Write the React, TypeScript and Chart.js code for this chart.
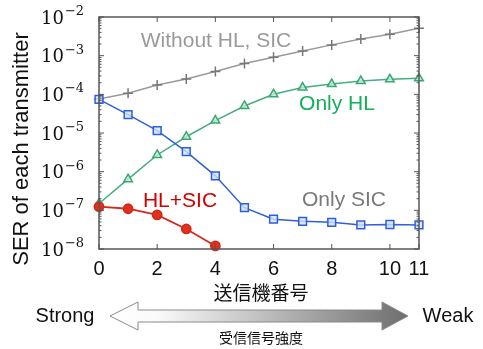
import React, { useEffect, useRef } from "react";
import { Chart, registerables } from "chart.js";

Chart.register(...registerables);

const transmitters = [0, 1, 2, 3, 4, 5, 6, 7, 8, 9, 10, 11];
const xTickValues = [0, 2, 4, 6, 8, 10, 11];
const yDecades = [-8, -7, -6, -5, -4, -3, -2];

const withoutHLSIC = [7.6e-5, 1.07e-4, 1.74e-4, 2.5e-4, 3.9e-4, 6.3e-4, 9.1e-4, 1.32e-3, 1.9e-3, 2.7e-3, 3.6e-3, 5.1e-3];
const onlyHL = [1.5e-7, 6.4e-7, 2.7e-6, 8e-6, 2.1e-5, 5e-5, 1.0e-4, 1.5e-4, 1.85e-4, 2.2e-4, 2.45e-4, 2.6e-4];
const onlySIC = [7.4e-5, 3.0e-5, 1.15e-5, 3.3e-6, 7.8e-7, 1.17e-7, 5.9e-8, 5.2e-8, 4.9e-8, 4.2e-8, 4.3e-8, 4.2e-8];
const hlSIC = [1.25e-7, 1.1e-7, 7.6e-8, 3.3e-8, 1.2e-8];

const xTitle = "送信機番号";
const yTitle = "SER of each transmitter";
const strongLabel = "Strong";
const weakLabel = "Weak";
const arrowLabel = "受信信号強度";

const SANS = "'Liberation Sans', Arial, sans-serif";
const SERIF = "'DejaVu Serif', serif";

const overlayPlugin = {
  id: "overlay",
  afterDraw(chart: any) {
    const ctx = chart.ctx as CanvasRenderingContext2D;
    const { left, right, top, bottom } = chart.chartArea;
    const xs = chart.scales.x;
    const ys = chart.scales.y;
    ctx.save();
    // frame
    ctx.strokeStyle = "#555";
    ctx.lineWidth = 1.5;
    ctx.strokeRect(left, top, right - left, bottom - top);
    // x ticks
    ctx.lineWidth = 1;
    xTickValues.forEach((v) => {
      const x = xs.getPixelForValue(v);
      ctx.beginPath();
      ctx.moveTo(x, bottom);
      ctx.lineTo(x, bottom - 5);
      ctx.moveTo(x, top);
      ctx.lineTo(x, top + 5);
      ctx.stroke();
    });
    // y ticks
    yDecades.forEach((k) => {
      const y = ys.getPixelForValue(Math.pow(10, k));
      ctx.beginPath();
      ctx.moveTo(left, y);
      ctx.lineTo(left + 5, y);
      ctx.moveTo(right, y);
      ctx.lineTo(right - 5, y);
      ctx.stroke();
      if (k < -2) {
        for (let m = 2; m <= 9; m++) {
          const ym = ys.getPixelForValue(m * Math.pow(10, k));
          ctx.beginPath();
          ctx.moveTo(left, ym);
          ctx.lineTo(left + 2.5, ym);
          ctx.moveTo(right, ym);
          ctx.lineTo(right - 2.5, ym);
          ctx.stroke();
        }
      }
      // label
      ctx.fillStyle = "#111";
      ctx.textAlign = "left";
      ctx.textBaseline = "alphabetic";
      ctx.font = `18px ${SERIF}`;
      ctx.fillText("10", 41, y + 6.5);
      const w = ctx.measureText("10").width;
      ctx.font = `13px ${SERIF}`;
      ctx.fillText("\u2212" + String(-k), 41 + w + 1, y - 2);
    });
    // y title
    ctx.save();
    ctx.translate(22, 149);
    ctx.rotate(-Math.PI / 2);
    ctx.font = `22px ${SANS}`;
    ctx.fillStyle = "#111";
    ctx.textAlign = "center";
    ctx.textBaseline = "middle";
    ctx.fillText(yTitle, 0, 0);
    ctx.restore();
    // annotations
    ctx.font = `21px ${SANS}`;
    ctx.textAlign = "center";
    ctx.textBaseline = "middle";
    ctx.fillStyle = "#9a9a9a";
    ctx.fillText("Without HL, SIC", 216, 41);
    ctx.fillStyle = "#12b05a";
    ctx.fillText("Only HL", 337, 104);
    ctx.fillStyle = "#7a7a7a";
    ctx.fillText("Only SIC", 344, 200);
    ctx.fillStyle = "#d00000";
    ctx.fillText("HL+SIC", 180, 201);
    // x title
    ctx.fillStyle = "#111";
    ctx.font = `19px 'Noto Sans CJK JP', sans-serif`;
    ctx.fillText(xTitle, 261, 293);
    // arrow
    const cy = 316;
    const lt = 110, lb = 138, rb = 382, rt = 408;
    const grad = ctx.createLinearGradient(lt, 0, rt, 0);
    grad.addColorStop(0, "#ffffff");
    grad.addColorStop(0.15, "#fbfbfb");
    grad.addColorStop(1, "#6e6e6e");
    ctx.beginPath();
    ctx.moveTo(lt, cy);
    ctx.lineTo(lb, cy - 14);
    ctx.lineTo(lb, cy - 6);
    ctx.lineTo(rb, cy - 6);
    ctx.lineTo(rb, cy - 14);
    ctx.lineTo(rt, cy);
    ctx.lineTo(rb, cy + 14);
    ctx.lineTo(rb, cy + 6);
    ctx.lineTo(lb, cy + 6);
    ctx.lineTo(lb, cy + 14);
    ctx.closePath();
    ctx.fillStyle = grad;
    ctx.fill();
    ctx.strokeStyle = "#8a8a8a";
    ctx.lineWidth = 1;
    ctx.stroke();
    ctx.fillStyle = "#111";
    ctx.font = `20px ${SANS}`;
    ctx.fillText(strongLabel, 65, cy);
    ctx.fillText(weakLabel, 448, cy);
    ctx.font = `14px 'Noto Sans CJK JP', sans-serif`;
    ctx.fillText(arrowLabel, 261, 338);
    ctx.restore();
  },
};

export default function App() {
  const ref = useRef<HTMLCanvasElement>(null);
  useEffect(() => {
    document.body.style.margin = "0";
    const chart = new Chart(ref.current as HTMLCanvasElement, {
      type: "line",
      data: {
        labels: transmitters,
        datasets: [
          {
            label: "HL+SIC",
            data: hlSIC.map((v, i) => ({ x: transmitters[i], y: v })),
            borderColor: "#d42a1a",
            backgroundColor: "#e0301e",
            pointBackgroundColor: "#e0301e",
            pointBorderColor: "#d42a1a",
            pointStyle: "circle",
            pointRadius: 4.5,
            borderWidth: 1.8,
            clip: false,
          },
          {
            label: "Only SIC",
            data: onlySIC.map((v, i) => ({ x: transmitters[i], y: v })),
            borderColor: "#2f5fd8",
            pointBackgroundColor: "rgba(210,225,255,0.8)",
            pointBorderColor: "#2f5fd8",
            pointStyle: "rect",
            pointRadius: 5.5,
            borderWidth: 1.5,
            clip: false,
          },
          {
            label: "Only HL",
            data: onlyHL.map((v, i) => ({ x: transmitters[i], y: v })),
            borderColor: "#45ad80",
            pointBackgroundColor: "rgba(200,236,215,0.8)",
            pointBorderColor: "#3ba676",
            pointStyle: "triangle",
            pointRadius: 5,
            borderWidth: 1.5,
            clip: false,
          },
          {
            label: "Without HL, SIC",
            data: withoutHLSIC.map((v, i) => ({ x: transmitters[i], y: v })),
            borderColor: "#9a9a9a",
            pointBorderColor: "#777",
            pointStyle: "cross",
            pointRadius: 5,
            borderWidth: 1.5,
            clip: false,
          },
        ],
      },
      options: {
        animation: false,
        responsive: false,
        layout: { padding: { left: 0, top: 17, right: 64, bottom: 0 } },
        plugins: { legend: { display: false }, tooltip: { enabled: false } },
        scales: {
          x: {
            type: "linear",
            min: 0,
            max: 11,
            grid: { display: false },
            border: { display: false },
            afterBuildTicks: (s: any) => {
              s.ticks = xTickValues.map((v) => ({ value: v }));
            },
            afterFit: (s: any) => {
              s.height = 100;
            },
            ticks: {
              autoSkip: false,
              maxRotation: 0,
              padding: 0,
              color: "#111",
              font: { family: SANS, size: 20 },
            },
          },
          y: {
            type: "logarithmic",
            min: 1e-8,
            max: 1e-2,
            grid: { display: false },
            border: { display: false },
            ticks: { display: false },
            afterFit: (s: any) => {
              s.width = 99;
            },
          },
        },
      },
      plugins: [overlayPlugin],
    } as any);
    return () => chart.destroy();
  }, []);
  return <canvas ref={ref} width={483} height={349} style={{ display: "block" }} />;
}
